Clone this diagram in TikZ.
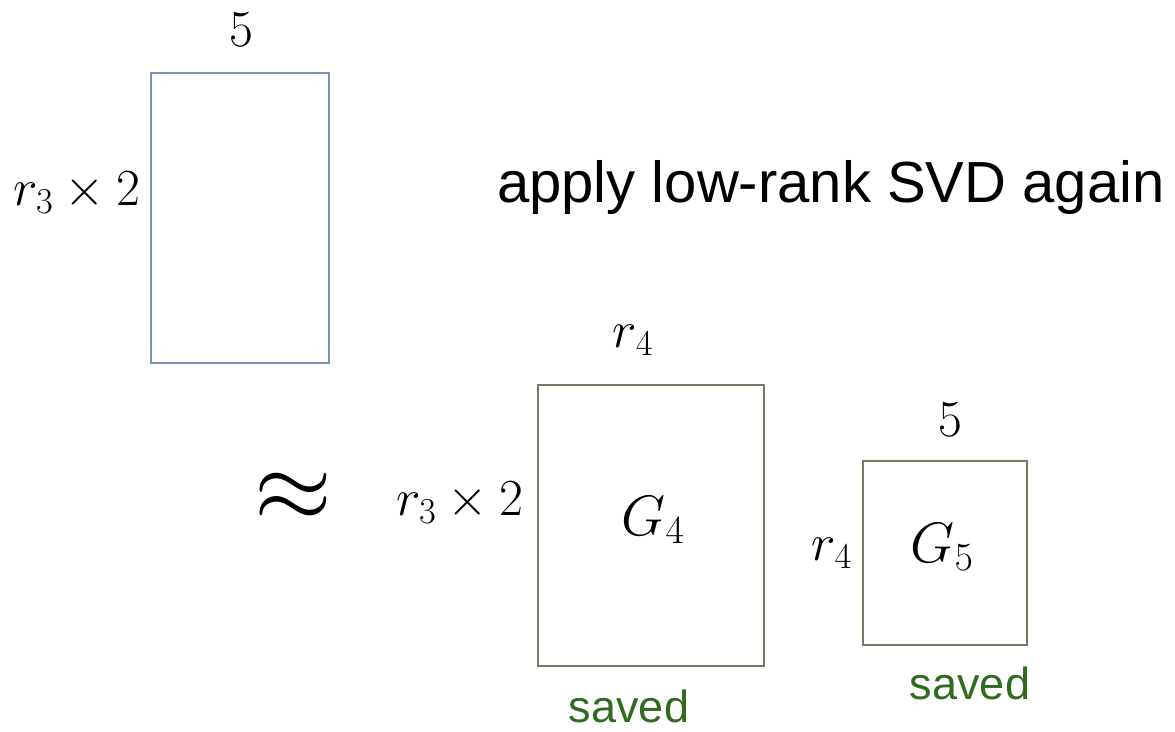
\RequirePackage{fix-cm}
\documentclass[tikz,border=0pt]{standalone}
\usepackage{amssymb,amsmath}
\usepackage{fontspec}
\setsansfont{Liberation Sans}
\usepackage{tikz}

\definecolor{boxblue}{RGB}{120,148,184}
\definecolor{boxgray}{RGB}{120,120,100}
\definecolor{savedgreen}{RGB}{48,108,32}

\tikzset{
  mat/.style={draw, rectangle, line width=1.1pt, inner sep=0pt},
  lab/.style={inner sep=0pt, font=\fontsize{52}{56}\selectfont},
  big/.style={inner sep=0pt, font=\fontsize{57}{62}\selectfont},
  saved/.style={inner sep=0pt, text=savedgreen, font=\sffamily\fontsize{45}{50}\selectfont}
}

\begin{document}
\begin{tikzpicture}[x=1pt, y=-1pt]
\useasboundingbox (0,0) rectangle (1175,731);

\node[mat, draw=boxblue, minimum width=178pt, minimum height=290pt] (A) at (240, 218) {};
\node[lab] (A5) at (241, 30) {$5$};
\node[lab, anchor=east] (Ar) at (141, 193) {$r_3\times 2$};

\node[inner sep=0pt, anchor=base west, font=\sffamily\fontsize{58}{64}\selectfont] (title) at (497, 202) {apply low-rank SVD again};

\node[inner sep=0pt, font=\fontsize{100}{110}\selectfont] (approx) at (293, 497) {$\approx$};

\node[mat, draw=boxgray, minimum width=226pt, minimum height=281pt] (G4) at (651, 525.5) {};
\node[big] (G4t) at (653, 520) {$G_4$};
\node[lab] (G4top) at (633, 340) {$r_4$};
\node[lab, anchor=east] (G4left) at (524, 503) {$r_3\times 2$};
\node[saved] (G4s) at (629, 706) {saved};

\node[mat, draw=boxgray, minimum width=164pt, minimum height=184pt] (G5) at (945, 553) {};
\node[big] (G5t) at (942, 547) {$G_5$};
\node[lab] (G5top) at (950, 420) {$5$};
\node[lab, anchor=east] (G5left) at (852, 553) {$r_4$};
\node[saved] (G5s) at (970, 683) {saved};
\end{tikzpicture}
\end{document}
